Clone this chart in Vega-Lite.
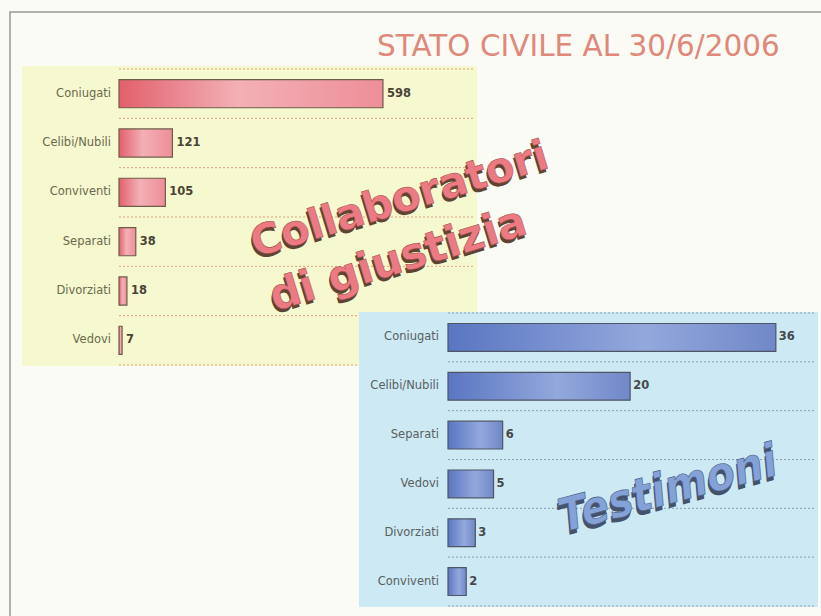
{
  "$schema": "https://vega.github.io/schema/vega-lite/v6.json",
  "width": 821,
  "height": 554,
  "autosize": "none",
  "padding": {"top": 62, "left": 0, "right": 0, "bottom": 0},
  "background": "#fbfbf6",
  "config": {"view": {"stroke": null}},
  "title": {
    "text": "STATO CIVILE AL 30/6/2006",
    "anchor": "start",
    "frame": "group",
    "dx": 377,
    "dy": 55,
    "offset": 4,
    "fontSize": 29.5,
    "font": "DejaVu Sans",
    "fontWeight": "normal",
    "color": "#e0887a"
  },
  "resolve": {"scale": {"x": "independent", "y": "independent"}},
  "layer": [
    {
      "data": {"values": [{"elemento": "cornice"}]},
      "mark": {"type": "rect", "fill": null, "fillOpacity": 0, "stroke": "#9a9a94", "strokeWidth": 1.5},
      "encoding": {
        "x": {"datum": 0, "type": "quantitative", "scale": {"domain": [0, 1], "range": [10, 826]}, "axis": null},
        "x2": {"datum": 1},
        "y": {"datum": 0, "type": "quantitative", "scale": {"domain": [0, 1], "range": [-50, 560]}, "axis": null},
        "y2": {"datum": 1}
      }
    },
    {
      "data": {"values": [{"pannello": "Collaboratori di giustizia"}]},
      "mark": {"type": "rect", "fill": "#f6f8d0"},
      "encoding": {
        "x": {"datum": 0, "type": "quantitative", "scale": {"domain": [0, 1], "range": [22, 477]}, "axis": null},
        "x2": {"datum": 1},
        "y": {"datum": 0, "type": "quantitative", "scale": {"domain": [0, 1], "range": [4, 304]}, "axis": null},
        "y2": {"datum": 1}
      }
    },
    {
      "data": {"values": [
        {"stato": "Coniugati", "n": 598},
        {"stato": "Celibi/Nubili", "n": 121},
        {"stato": "Conviventi", "n": 105},
        {"stato": "Separati", "n": 38},
        {"stato": "Divorziati", "n": 18},
        {"stato": "Vedovi", "n": 7}
      ]},
      "layer": [
        {
          "mark": {"type": "rule", "color": "#dfa27e", "strokeDash": [2, 2], "strokeWidth": 1},
          "encoding": {
            "y": {"field": "stato", "type": "nominal", "bandPosition": 0,
                  "scale": {"domain": ["Coniugati", "Celibi/Nubili", "Conviventi", "Separati", "Divorziati", "Vedovi"], "range": [7, 303], "paddingInner": 0, "paddingOuter": 0},
                  "axis": null},
            "x": {"datum": 0, "type": "quantitative", "scale": {"domain": [0, 802], "range": [119, 473], "nice": false, "zero": true}, "axis": null},
            "x2": {"datum": 802}
          }
        },
        {
          "transform": [{"filter": "datum.stato === 'Vedovi'"}],
          "mark": {"type": "rule", "color": "#dfa27e", "strokeDash": [2, 2], "strokeWidth": 1},
          "encoding": {
            "y": {"field": "stato", "type": "nominal", "bandPosition": 1, "axis": null},
            "x": {"datum": 0, "type": "quantitative", "axis": null},
            "x2": {"datum": 802}
          }
        },
        {
          "mark": {
            "type": "bar",
            "height": {"band": 0.57},
            "stroke": "#6e5c4a",
            "strokeWidth": 1.2,
            "fill": {"gradient": "linear", "x1": 0, "x2": 1, "y1": 0, "y2": 0,
                     "stops": [{"offset": 0, "color": "#e2606c"}, {"offset": 0.45, "color": "#f3b0b6"}, {"offset": 1, "color": "#ee8e98"}]}
          },
          "encoding": {
            "y": {"field": "stato", "type": "nominal", "axis": null},
            "x": {"field": "n", "type": "quantitative", "axis": null}
          }
        },
        {
          "mark": {"type": "text", "align": "left", "baseline": "middle", "dx": 4, "font": "DejaVu Sans", "fontWeight": "bold", "fontSize": 11.5, "color": "#4a4436"},
          "encoding": {
            "y": {"field": "stato", "type": "nominal", "axis": null},
            "x": {"field": "n", "type": "quantitative", "axis": null},
            "text": {"field": "n", "type": "quantitative"}
          }
        },
        {
          "mark": {"type": "text", "align": "right", "baseline": "middle", "dx": -8, "font": "DejaVu Sans", "fontSize": 11.5, "color": "#6a6a4c"},
          "encoding": {
            "y": {"field": "stato", "type": "nominal", "axis": null},
            "x": {"datum": 0, "type": "quantitative", "axis": null},
            "text": {"field": "stato", "type": "nominal"}
          }
        },
        {
          "data": {"values": [{"riga": "Collaboratori"}]},
          "layer": [
            {
              "mark": {"type": "text", "align": "center", "baseline": "middle", "angle": -17, "font": "DejaVu Sans", "fontWeight": "bold", "fontSize": 42, "color": "#5e4432", "dx": -2, "dy": 11},
              "encoding": {
                "y": {"datum": "Conviventi", "type": "nominal", "axis": null},
                "x": {"datum": 630, "type": "quantitative", "axis": null},
                "text": {"field": "riga", "type": "nominal"}
              }
            },
            {
              "mark": {"type": "text", "align": "center", "baseline": "middle", "angle": -17, "font": "DejaVu Sans", "fontWeight": "bold", "fontSize": 42, "color": "#ec7a82", "stroke": "#9a4a44", "strokeWidth": 0.5, "dy": 8},
              "encoding": {
                "y": {"datum": "Conviventi", "type": "nominal", "axis": null},
                "x": {"datum": 630, "type": "quantitative", "axis": null},
                "text": {"field": "riga", "type": "nominal"}
              }
            }
          ]
        },
        {
          "data": {"values": [{"riga": "di giustizia"}]},
          "layer": [
            {
              "mark": {"type": "text", "align": "center", "baseline": "middle", "angle": -17, "font": "DejaVu Sans", "fontWeight": "bold", "fontSize": 43, "color": "#5e4432", "dx": -2, "dy": 22},
              "encoding": {
                "y": {"datum": "Separati", "type": "nominal", "axis": null},
                "x": {"datum": 620, "type": "quantitative", "axis": null},
                "text": {"field": "riga", "type": "nominal"}
              }
            },
            {
              "mark": {"type": "text", "align": "center", "baseline": "middle", "angle": -17, "font": "DejaVu Sans", "fontWeight": "bold", "fontSize": 43, "color": "#ec7a82", "stroke": "#9a4a44", "strokeWidth": 0.5, "dy": 19},
              "encoding": {
                "y": {"datum": "Separati", "type": "nominal", "axis": null},
                "x": {"datum": 620, "type": "quantitative", "axis": null},
                "text": {"field": "riga", "type": "nominal"}
              }
            }
          ]
        }
      ]
    },
    {
      "data": {"values": [{"pannello": "Testimoni"}]},
      "mark": {"type": "rect", "fill": "#cce9f4"},
      "encoding": {
        "x": {"datum": 0, "type": "quantitative", "scale": {"domain": [0, 1], "range": [359, 818]}, "axis": null},
        "x2": {"datum": 1},
        "y": {"datum": 0, "type": "quantitative", "scale": {"domain": [0, 1], "range": [250, 545]}, "axis": null},
        "y2": {"datum": 1}
      }
    },
    {
      "data": {"values": [
        {"stato": "Coniugati", "n": 36},
        {"stato": "Celibi/Nubili", "n": 20},
        {"stato": "Separati", "n": 6},
        {"stato": "Vedovi", "n": 5},
        {"stato": "Divorziati", "n": 3},
        {"stato": "Conviventi", "n": 2}
      ]},
      "layer": [
        {
          "mark": {"type": "rule", "color": "#8d9eb0", "strokeDash": [2, 2], "strokeWidth": 1},
          "encoding": {
            "y": {"field": "stato", "type": "nominal", "bandPosition": 0,
                  "scale": {"domain": ["Coniugati", "Celibi/Nubili", "Separati", "Vedovi", "Divorziati", "Conviventi"], "range": [251, 544], "paddingInner": 0, "paddingOuter": 0},
                  "axis": null},
            "x": {"datum": 0, "type": "quantitative", "scale": {"domain": [0, 40.3], "range": [448, 815], "nice": false, "zero": true}, "axis": null},
            "x2": {"datum": 40.3}
          }
        },
        {
          "transform": [{"filter": "datum.stato === 'Conviventi'"}],
          "mark": {"type": "rule", "color": "#8d9eb0", "strokeDash": [2, 2], "strokeWidth": 1},
          "encoding": {
            "y": {"field": "stato", "type": "nominal", "bandPosition": 1, "axis": null},
            "x": {"datum": 0, "type": "quantitative", "axis": null},
            "x2": {"datum": 40.3}
          }
        },
        {
          "mark": {
            "type": "bar",
            "height": {"band": 0.57},
            "stroke": "#4e5666",
            "strokeWidth": 1.2,
            "fill": {"gradient": "linear", "x1": 0, "x2": 1, "y1": 0, "y2": 0,
                     "stops": [{"offset": 0, "color": "#5a76c2"}, {"offset": 0.6, "color": "#93a8dc"}, {"offset": 1, "color": "#7088c8"}]}
          },
          "encoding": {
            "y": {"field": "stato", "type": "nominal", "axis": null},
            "x": {"field": "n", "type": "quantitative", "axis": null}
          }
        },
        {
          "mark": {"type": "text", "align": "left", "baseline": "middle", "dx": 3, "font": "DejaVu Sans", "fontWeight": "bold", "fontSize": 11.5, "color": "#46484a"},
          "encoding": {
            "y": {"field": "stato", "type": "nominal", "axis": null},
            "x": {"field": "n", "type": "quantitative", "axis": null},
            "text": {"field": "n", "type": "quantitative"}
          }
        },
        {
          "mark": {"type": "text", "align": "right", "baseline": "middle", "dx": -9, "font": "DejaVu Sans", "fontSize": 11.5, "color": "#5a605e"},
          "encoding": {
            "y": {"field": "stato", "type": "nominal", "axis": null},
            "x": {"datum": 0, "type": "quantitative", "axis": null},
            "text": {"field": "stato", "type": "nominal"}
          }
        },
        {
          "data": {"values": [{"riga": "Testimoni"}]},
          "layer": [
            {
              "mark": {"type": "text", "align": "center", "baseline": "middle", "angle": -15, "font": "Liberation Sans Narrow, DejaVu Sans Condensed, Roboto Condensed, Liberation Sans", "fontWeight": "bold", "fontStyle": "italic", "fontSize": 46, "color": "#44526c", "dx": -2, "dy": 10},
              "encoding": {
                "y": {"datum": "Vedovi", "type": "nominal", "axis": null},
                "x": {"datum": 24, "type": "quantitative", "axis": null},
                "text": {"field": "riga", "type": "nominal"}
              }
            },
            {
              "mark": {"type": "text", "align": "center", "baseline": "middle", "angle": -15, "font": "Liberation Sans Narrow, DejaVu Sans Condensed, Roboto Condensed, Liberation Sans", "fontWeight": "bold", "fontStyle": "italic", "fontSize": 46, "color": "#84a2d8", "stroke": "#4c5e86", "strokeWidth": 0.6, "dy": 6},
              "encoding": {
                "y": {"datum": "Vedovi", "type": "nominal", "axis": null},
                "x": {"datum": 24, "type": "quantitative", "axis": null},
                "text": {"field": "riga", "type": "nominal"}
              }
            }
          ]
        }
      ]
    }
  ]
}
